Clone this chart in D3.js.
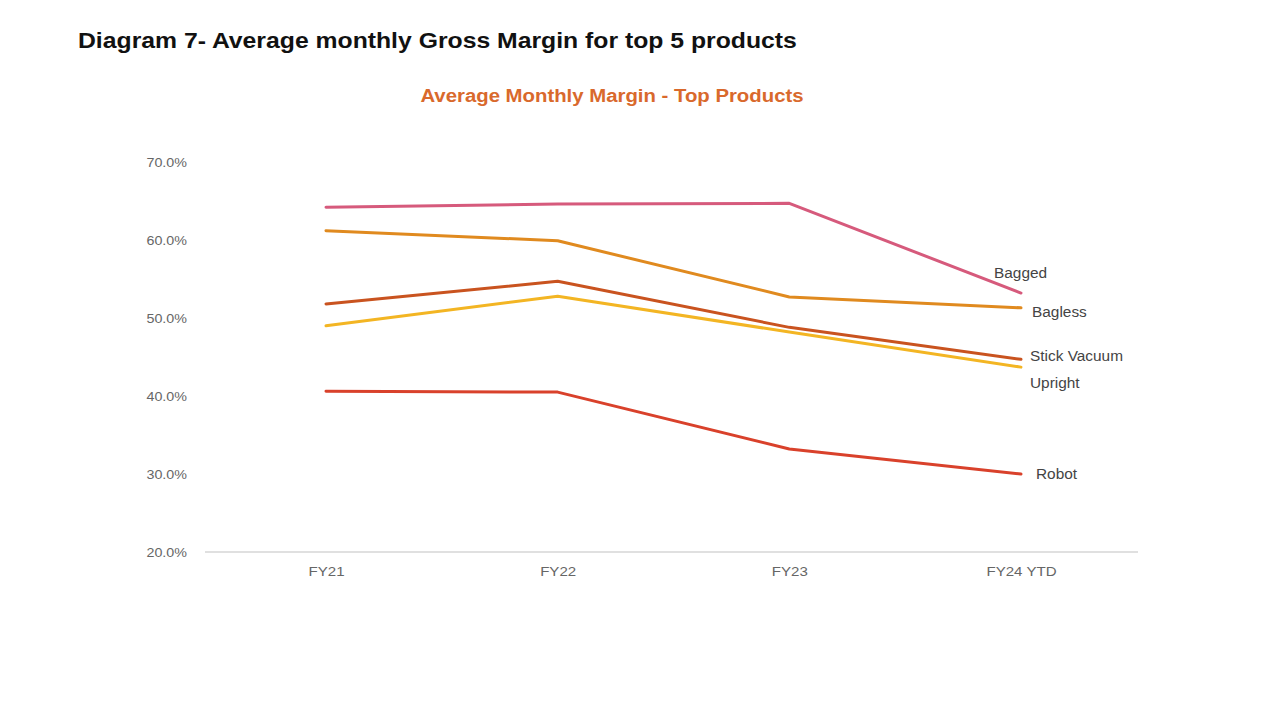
<!DOCTYPE html>
<html>
<head>
<meta charset="utf-8">
<script src="https://cdn.jsdelivr.net/npm/d3@7"></script>
<style>
  html, body { margin: 0; padding: 0; background: #ffffff; }
  svg { display: block; }
</style>
</head>
<body>
<svg id="chart" width="1280" height="720"></svg>
<script>
// ---- Data ----
const categories = ["FY21", "FY22", "FY23", "FY24 YTD"];
const seriesNames = ["Bagged", "Bagless", "Stick Vacuum", "Upright", "Robot"];
const bagged      = [64.2, 64.6, 64.7, 53.2];
const bagless     = [61.2, 59.9, 52.7, 51.3];
const stickVacuum = [51.8, 54.7, 48.8, 44.7];
const upright     = [49.0, 52.8, 48.2, 43.7];
const robot       = [40.6, 40.5, 33.2, 30.0];
const yTicks = [20, 30, 40, 50, 60, 70];

const seriesValues = [bagged, bagless, stickVacuum, upright, robot];

// ---- Styles / layout ----
const colors = ["#d65a7c", "#e08a1f", "#c9531f", "#f3b523", "#d9412b"];
const labelOffsets = [[-27, -20], [11, 4], [9, -3], [9, 16], [15, 0]];
const FONT = "Liberation Sans, Arial, sans-serif";

// widen text horizontally (reference is slightly stretched)
function stretch(sel, factor) {
  sel.each(function () {
    const w = this.getComputedTextLength();
    d3.select(this).attr("textLength", w * factor).attr("lengthAdjust", "spacingAndGlyphs");
  });
}

const svg = d3.select("#chart");

svg.append("text")
  .attr("x", 78).attr("y", 48)
  .attr("font-family", FONT)
  .attr("font-size", 22).attr("font-weight", "bold")
  .attr("fill", "#111")
  .text("Diagram 7- Average monthly Gross Margin for top 5 products")
  .call(stretch, 1.125);

svg.append("text")
  .attr("x", 612).attr("y", 102)
  .attr("text-anchor", "middle")
  .attr("font-family", FONT)
  .attr("font-size", 18).attr("font-weight", "bold")
  .attr("fill", "#d9692c")
  .text("Average Monthly Margin - Top Products")
  .call(stretch, 1.13);

const plotLeft = 205, plotRight = 1138;
const x = d3.scalePoint().domain(categories).range([326, 1021]);
const y = d3.scaleLinear().domain([20, 70]).range([552, 162]);

// Baseline
svg.append("line")
  .attr("x1", plotLeft).attr("x2", plotRight)
  .attr("y1", y(20)).attr("y2", y(20))
  .attr("stroke", "#d6d6d6").attr("stroke-width", 1.5);

// Y axis labels
const yAxis = d3.axisLeft(y).tickValues(yTicks).tickSize(0).tickPadding(0)
  .tickFormat(d => d.toFixed(1) + "%");
const yg = svg.append("g").attr("transform", "translate(187,0)").call(yAxis);
yg.select(".domain").remove();
yg.selectAll("text")
  .attr("font-family", FONT)
  .attr("font-size", 13).attr("fill", "#666")
  .call(stretch, 1.1);

// X axis labels
const xAxis = d3.axisBottom(x).tickSize(0).tickPadding(0);
const xg = svg.append("g").attr("transform", "translate(0,567)").call(xAxis);
xg.select(".domain").remove();
xg.selectAll("text")
  .attr("font-family", FONT)
  .attr("font-size", 13).attr("fill", "#666")
  .call(stretch, 1.16);

// Lines
const line = d3.line()
  .x((d, i) => x(categories[i]))
  .y(d => y(d));

seriesValues.forEach((vals, si) => {
  svg.append("path")
    .datum(vals)
    .attr("d", line)
    .attr("fill", "none")
    .attr("stroke", colors[si])
    .attr("stroke-width", 3)
    .attr("stroke-linejoin", "round")
    .attr("stroke-linecap", "round");

  const last = vals.length - 1;
  svg.append("text")
    .attr("x", x(categories[last]) + labelOffsets[si][0])
    .attr("y", y(vals[last]) + labelOffsets[si][1])
    .attr("dy", "0.35em")
    .attr("font-family", FONT)
    .attr("font-size", 14)
    .attr("fill", "#444")
    .text(seriesNames[si])
    .call(stretch, 1.1);
});
</script>
</body>
</html>
